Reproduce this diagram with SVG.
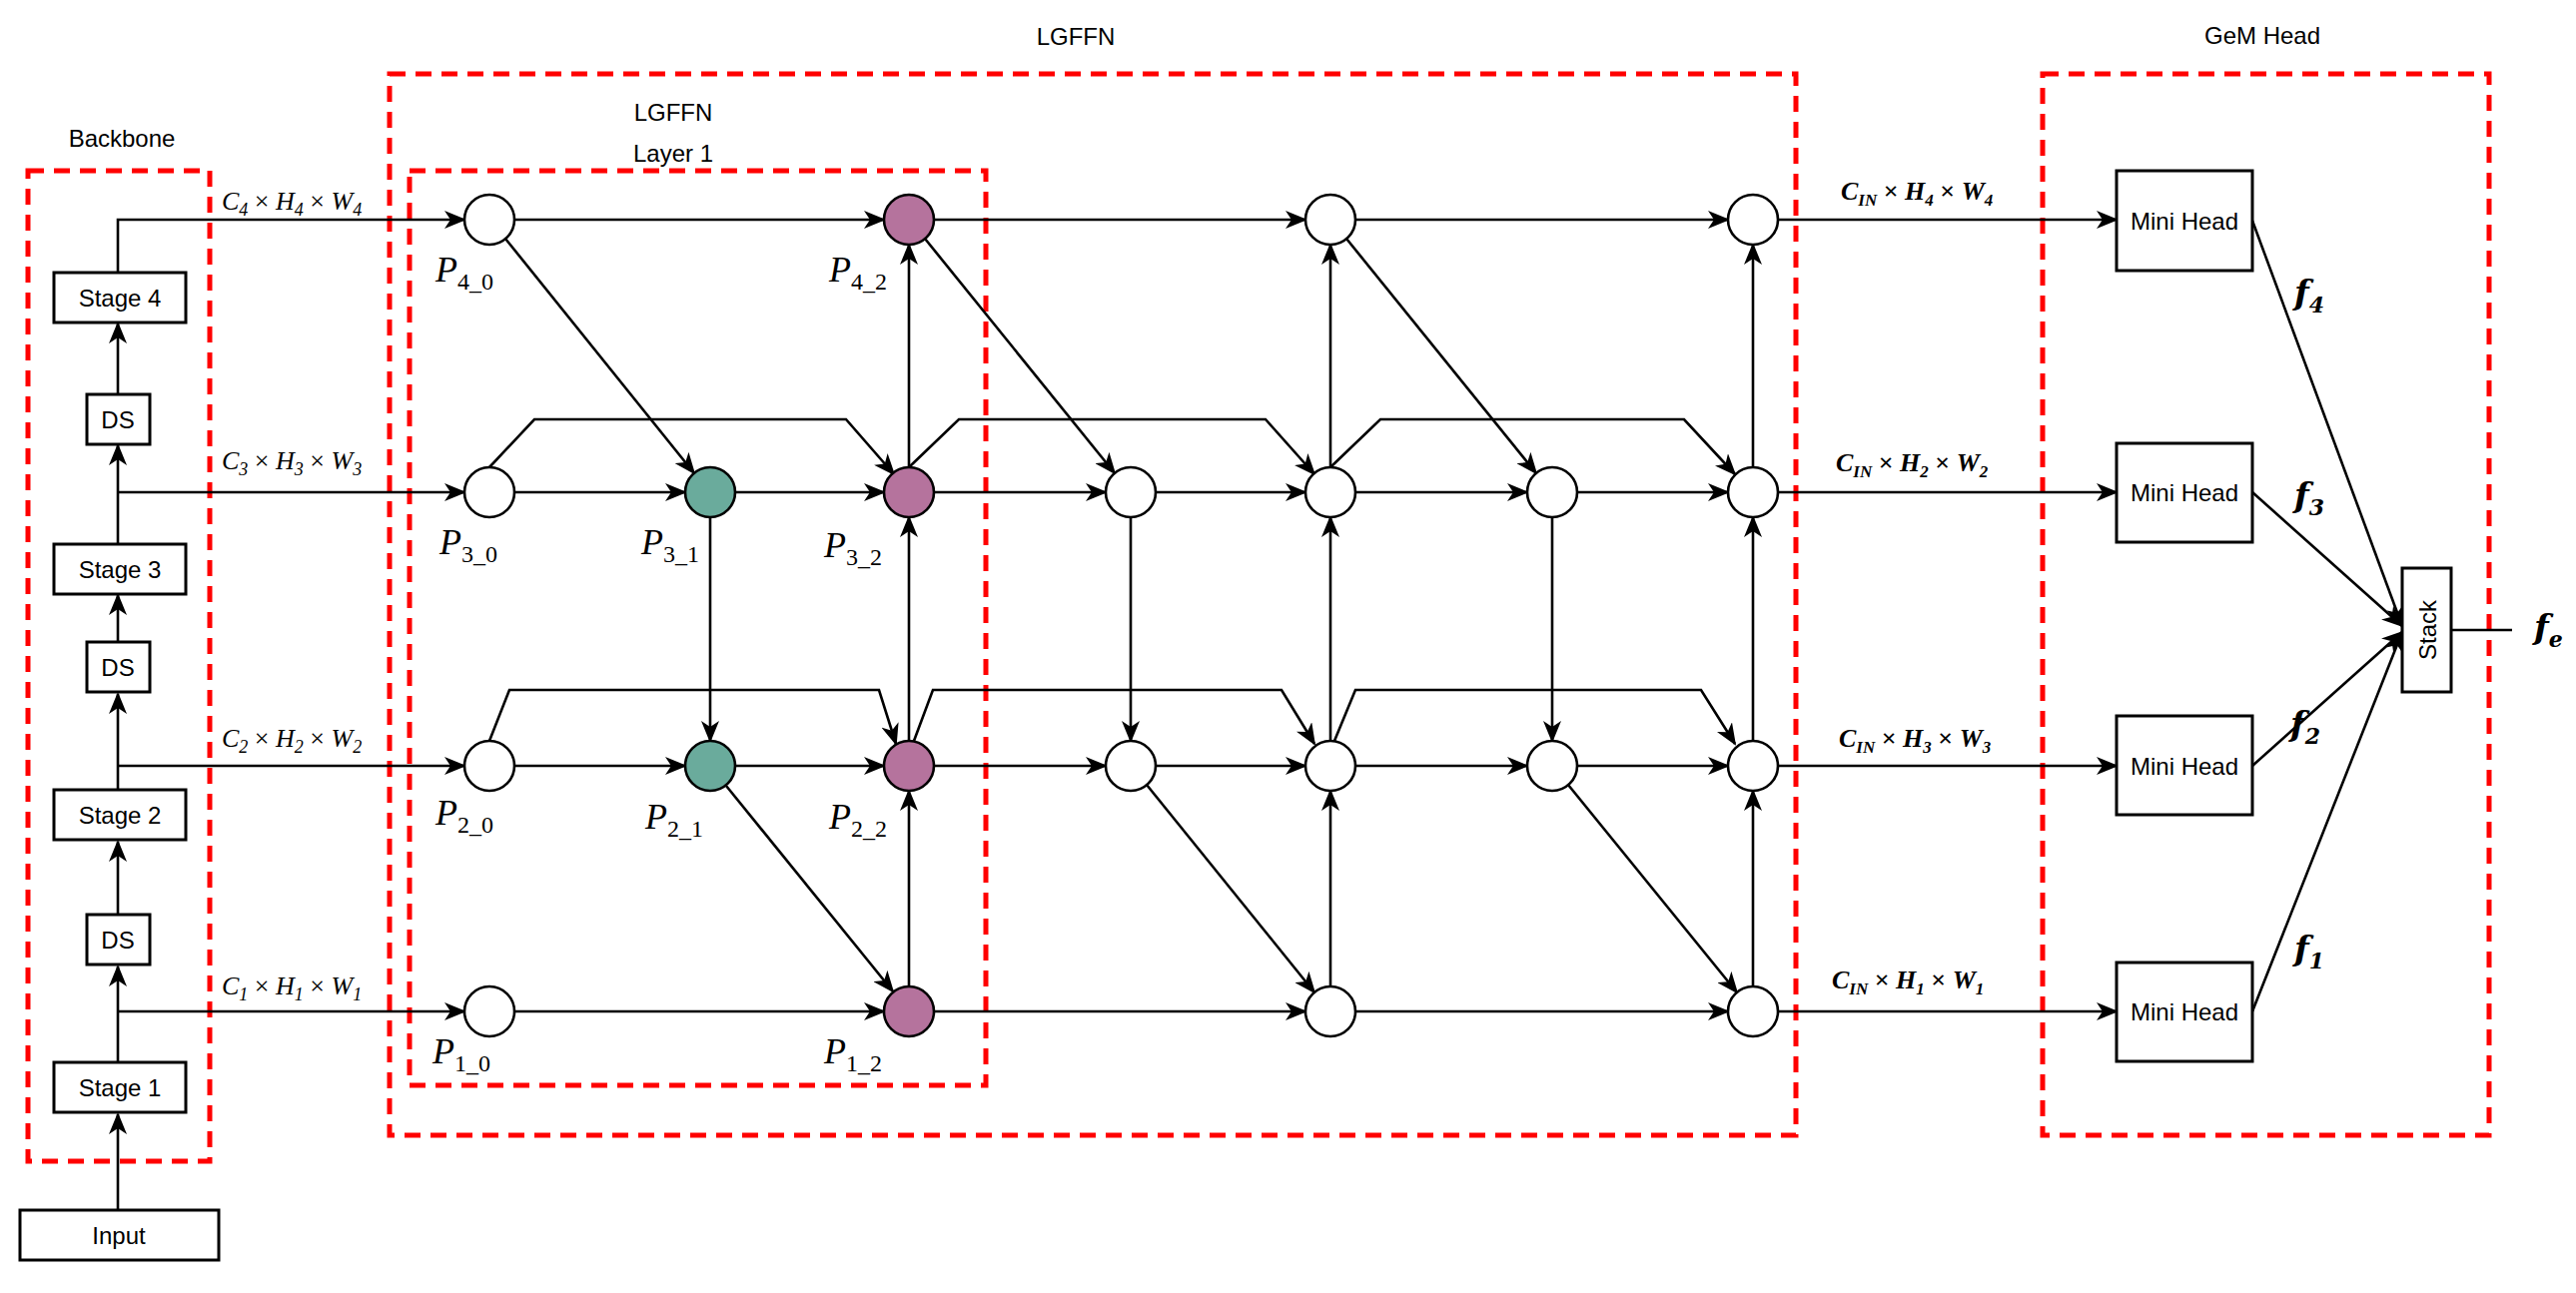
<svg xmlns="http://www.w3.org/2000/svg" width="2579" height="1295" viewBox="0 0 2579 1295">
<style>
.box{fill:#fff;stroke:#000;stroke-width:3}
.red{fill:none;stroke:#f00;stroke-width:5;stroke-dasharray:16 10}
.e{fill:none;stroke:#000;stroke-width:2.6;marker-end:url(#ah)}
.l{fill:none;stroke:#000;stroke-width:2.6}
.n{fill:#fff;stroke:#000;stroke-width:2.6}
.t{fill:#b5739d}.g{fill:#6aab9c}
.s{font-family:"Liberation Sans",Arial,sans-serif;font-size:24px;text-anchor:middle;dominant-baseline:central}
.m{font-family:"Liberation Serif","DejaVu Serif",serif;font-style:italic;font-size:26px}
.p{font-family:"Liberation Serif","DejaVu Serif",serif;font-style:italic;font-size:36px}
.b{font-family:"DejaVu Serif",serif;font-style:italic;font-weight:bold;font-size:34px}
</style>
<defs>
<marker id="ah" markerUnits="userSpaceOnUse" markerWidth="22" markerHeight="18" viewBox="0 0 22 18" refX="20" refY="9" orient="auto"><path d="M0,0 L22,9 L0,18 L6,9 Z" fill="#000"/></marker>
</defs>
<rect width="2579" height="1295" fill="#fff"/>
<g id="frames">
<rect class="red" x="28" y="171" width="182" height="992"/>
<rect class="red" x="390" y="74" width="1408" height="1063"/>
<rect class="red" x="410" y="171" width="577" height="916"/>
<rect class="red" x="2045" y="74" width="447" height="1063"/>
<text class="s" x="122" y="138" font-size="26">Backbone</text>
<text class="s" x="1077" y="36" font-size="26">LGFFN</text>
<text class="s" x="674" y="112" font-size="26">LGFFN</text>
<text class="s" x="674" y="153" font-size="15">Layer 1</text>
<text class="s" x="2265" y="35" font-size="26">GeM Head</text>
</g>
<g id="connectors">
<path class="e" d="M118,1212 V1116"/>
<path class="e" d="M118,1064 V968"/>
<path class="e" d="M118,916 V843"/>
<path class="e" d="M118,791 V695"/>
<path class="e" d="M118,643 V596"/>
<path class="e" d="M118,545 V446"/>
<path class="e" d="M118,395 V324"/>
<path class="e" d="M118,273 V220 H465"/>
<path class="e" d="M118,493 H465"/>
<path class="e" d="M118,767 H465"/>
<path class="e" d="M118,1013 H465"/>
<!-- layer 1 -->
<path class="e" d="M515,220 H885"/>
<path class="e" d="M506,239 L695,474"/>
<path class="e" d="M515,493 H686"/>
<path class="e" d="M736,493 H885"/>
<path class="e" d="M490,468 L535,420 H847 L895,475"/>
<path class="e" d="M711,518 V742"/>
<path class="e" d="M515,767 H686"/>
<path class="e" d="M736,767 H885"/>
<path class="e" d="M490,742 L510,691 H880 L897,745"/>
<path class="e" d="M727,787 L894,993"/>
<path class="e" d="M515,1013 H885"/>
<path class="e" d="M910,988 V792"/>
<path class="e" d="M910,742 V518"/>
<path class="e" d="M910,468 V245"/>
<!-- layer 2 -->
<path class="e" d="M935,220 H1307"/>
<path class="e" d="M926,239 L1116,474"/>
<path class="e" d="M935,493 H1107"/>
<path class="e" d="M1157,493 H1307"/>
<path class="e" d="M910,468 L960,420 H1267 L1316,475"/>
<path class="e" d="M1132,518 V742"/>
<path class="e" d="M935,767 H1107"/>
<path class="e" d="M1157,767 H1307"/>
<path class="e" d="M915,742 L934,691 H1283 L1316,745"/>
<path class="e" d="M1148,786 L1316,994"/>
<path class="e" d="M935,1013 H1307"/>
<path class="e" d="M1332,988 V792"/>
<path class="e" d="M1332,742 V518"/>
<path class="e" d="M1332,468 V245"/>
<!-- layer 3 -->
<path class="e" d="M1357,220 H1730"/>
<path class="e" d="M1348,239 L1538,474"/>
<path class="e" d="M1357,493 H1529"/>
<path class="e" d="M1579,493 H1730"/>
<path class="e" d="M1332,468 L1382,420 H1686 L1737,475"/>
<path class="e" d="M1554,518 V742"/>
<path class="e" d="M1357,767 H1529"/>
<path class="e" d="M1579,767 H1730"/>
<path class="e" d="M1336,742 L1357,691 H1703 L1737,745"/>
<path class="e" d="M1570,786 L1739,994"/>
<path class="e" d="M1357,1013 H1730"/>
<path class="e" d="M1755,988 V792"/>
<path class="e" d="M1755,742 V518"/>
<path class="e" d="M1755,468 V245"/>
<!-- outputs -->
<path class="e" d="M1780,220 H2119"/>
<path class="e" d="M1780,493 H2119"/>
<path class="e" d="M1780,767 H2119"/>
<path class="e" d="M1780,1013 H2119"/>
<path class="e" d="M2255,221 L2405,627"/>
<path class="e" d="M2255,493 L2405,627"/>
<path class="e" d="M2255,767 L2405,633"/>
<path class="e" d="M2255,1013 L2405,633"/>
<path class="l" d="M2454,631 H2515"/>
</g>
<g id="backbone">
<g id="input"><rect class="box" x="20" y="1212" width="199" height="50"/><text class="s" x="119" y="1237">Input</text></g>
<g id="stage1"><rect class="box" x="54" y="1064" width="132" height="50"/><text class="s" x="120" y="1089">Stage 1</text></g>
<g id="ds1"><rect class="box" x="87" y="916" width="63" height="50"/><text class="s" x="118" y="941">DS</text></g>
<g id="stage2"><rect class="box" x="54" y="791" width="132" height="50"/><text class="s" x="120" y="816">Stage 2</text></g>
<g id="ds2"><rect class="box" x="87" y="643" width="63" height="50"/><text class="s" x="118" y="668">DS</text></g>
<g id="stage3"><rect class="box" x="54" y="545" width="132" height="50"/><text class="s" x="120" y="570">Stage 3</text></g>
<g id="ds3"><rect class="box" x="87" y="395" width="63" height="50"/><text class="s" x="118" y="420">DS</text></g>
<g id="stage4"><rect class="box" x="54" y="273" width="132" height="50"/><text class="s" x="120" y="298">Stage 4</text></g>
</g>
<g id="dimlabels" class="m">
<text x="222" y="210">C<tspan font-size="18" dy="6">4</tspan><tspan dy="-6" font-style="normal"> × </tspan>H<tspan font-size="18" dy="6">4</tspan><tspan dy="-6" font-style="normal"> × </tspan>W<tspan font-size="18" dy="6">4</tspan></text>
<text x="222" y="470">C<tspan font-size="18" dy="6">3</tspan><tspan dy="-6" font-style="normal"> × </tspan>H<tspan font-size="18" dy="6">3</tspan><tspan dy="-6" font-style="normal"> × </tspan>W<tspan font-size="18" dy="6">3</tspan></text>
<text x="222" y="748">C<tspan font-size="18" dy="6">2</tspan><tspan dy="-6" font-style="normal"> × </tspan>H<tspan font-size="18" dy="6">2</tspan><tspan dy="-6" font-style="normal"> × </tspan>W<tspan font-size="18" dy="6">2</tspan></text>
<text x="222" y="996">C<tspan font-size="18" dy="6">1</tspan><tspan dy="-6" font-style="normal"> × </tspan>H<tspan font-size="18" dy="6">1</tspan><tspan dy="-6" font-style="normal"> × </tspan>W<tspan font-size="18" dy="6">1</tspan></text>
<g font-weight="bold">
<text x="1843" y="200">C<tspan font-size="17" dy="6">IN</tspan><tspan dy="-6" font-style="normal"> × </tspan>H<tspan font-size="17" dy="6">4</tspan><tspan dy="-6" font-style="normal"> × </tspan>W<tspan font-size="17" dy="6">4</tspan></text>
<text x="1838" y="472">C<tspan font-size="17" dy="6">IN</tspan><tspan dy="-6" font-style="normal"> × </tspan>H<tspan font-size="17" dy="6">2</tspan><tspan dy="-6" font-style="normal"> × </tspan>W<tspan font-size="17" dy="6">2</tspan></text>
<text x="1841" y="748">C<tspan font-size="17" dy="6">IN</tspan><tspan dy="-6" font-style="normal"> × </tspan>H<tspan font-size="17" dy="6">3</tspan><tspan dy="-6" font-style="normal"> × </tspan>W<tspan font-size="17" dy="6">3</tspan></text>
<text x="1834" y="990">C<tspan font-size="17" dy="6">IN</tspan><tspan dy="-6" font-style="normal"> × </tspan>H<tspan font-size="17" dy="6">1</tspan><tspan dy="-6" font-style="normal"> × </tspan>W<tspan font-size="17" dy="6">1</tspan></text>
</g>
</g>
<g id="nodes">
<g id="P4_0"><circle class="n" cx="490" cy="220" r="25"/><text class="p" x="436" y="282">P<tspan font-size="24" font-style="normal" dy="8">4_0</tspan></text></g>
<g id="P4_2"><circle class="n t" cx="910" cy="220" r="25"/><text class="p" x="830" y="282">P<tspan font-size="24" font-style="normal" dy="8">4_2</tspan></text></g>
<g id="P3_0"><circle class="n" cx="490" cy="493" r="25"/><text class="p" x="440" y="555">P<tspan font-size="24" font-style="normal" dy="8">3_0</tspan></text></g>
<g id="P3_1"><circle class="n g" cx="711" cy="493" r="25"/><text class="p" x="642" y="555">P<tspan font-size="24" font-style="normal" dy="8">3_1</tspan></text></g>
<g id="P3_2"><circle class="n t" cx="910" cy="493" r="25"/><text class="p" x="825" y="558">P<tspan font-size="24" font-style="normal" dy="8">3_2</tspan></text></g>
<g id="P2_0"><circle class="n" cx="490" cy="767" r="25"/><text class="p" x="436" y="826">P<tspan font-size="24" font-style="normal" dy="8">2_0</tspan></text></g>
<g id="P2_1"><circle class="n g" cx="711" cy="767" r="25"/><text class="p" x="646" y="830">P<tspan font-size="24" font-style="normal" dy="8">2_1</tspan></text></g>
<g id="P2_2"><circle class="n t" cx="910" cy="767" r="25"/><text class="p" x="830" y="830">P<tspan font-size="24" font-style="normal" dy="8">2_2</tspan></text></g>
<g id="P1_0"><circle class="n" cx="490" cy="1013" r="25"/><text class="p" x="433" y="1065">P<tspan font-size="24" font-style="normal" dy="8">1_0</tspan></text></g>
<g id="P1_2"><circle class="n t" cx="910" cy="1013" r="25"/><text class="p" x="825" y="1065">P<tspan font-size="24" font-style="normal" dy="8">1_2</tspan></text></g>
<g id="n2_4"><circle class="n" cx="1332" cy="220" r="25"/></g>
<g id="n2a_3"><circle class="n" cx="1132" cy="493" r="25"/></g>
<g id="n2_3"><circle class="n" cx="1332" cy="493" r="25"/></g>
<g id="n2a_2"><circle class="n" cx="1132" cy="767" r="25"/></g>
<g id="n2_2"><circle class="n" cx="1332" cy="767" r="25"/></g>
<g id="n2_1"><circle class="n" cx="1332" cy="1013" r="25"/></g>
<g id="n3_4"><circle class="n" cx="1755" cy="220" r="25"/></g>
<g id="n3a_3"><circle class="n" cx="1554" cy="493" r="25"/></g>
<g id="n3_3"><circle class="n" cx="1755" cy="493" r="25"/></g>
<g id="n3a_2"><circle class="n" cx="1554" cy="767" r="25"/></g>
<g id="n3_2"><circle class="n" cx="1755" cy="767" r="25"/></g>
<g id="n3_1"><circle class="n" cx="1755" cy="1013" r="25"/></g>
</g>
<g id="head">
<g id="mh4"><rect class="box" x="2119" y="171" width="136" height="100"/><text class="s" x="2187" y="221">Mini Head</text></g>
<g id="mh3"><rect class="box" x="2119" y="444" width="136" height="99"/><text class="s" x="2187" y="493">Mini Head</text></g>
<g id="mh2"><rect class="box" x="2119" y="717" width="136" height="99"/><text class="s" x="2187" y="767">Mini Head</text></g>
<g id="mh1"><rect class="box" x="2119" y="964" width="136" height="99"/><text class="s" x="2187" y="1013">Mini Head</text></g>
<g id="stack"><rect class="box" x="2405" y="569" width="49" height="124"/><text class="s" transform="translate(2430,631) rotate(-90)" x="0" y="0">Stack</text></g>
<text class="b" x="2297" y="305">f<tspan font-size="22" dy="8">4</tspan></text>
<text class="b" x="2297" y="508">f<tspan font-size="22" dy="8">3</tspan></text>
<text class="b" x="2293" y="737">f<tspan font-size="22" dy="8">2</tspan></text>
<text class="b" x="2297" y="962">f<tspan font-size="22" dy="8">1</tspan></text>
<text class="b" x="2537" y="640">f<tspan font-size="22" dy="8">e</tspan></text>
</g>
</svg>
